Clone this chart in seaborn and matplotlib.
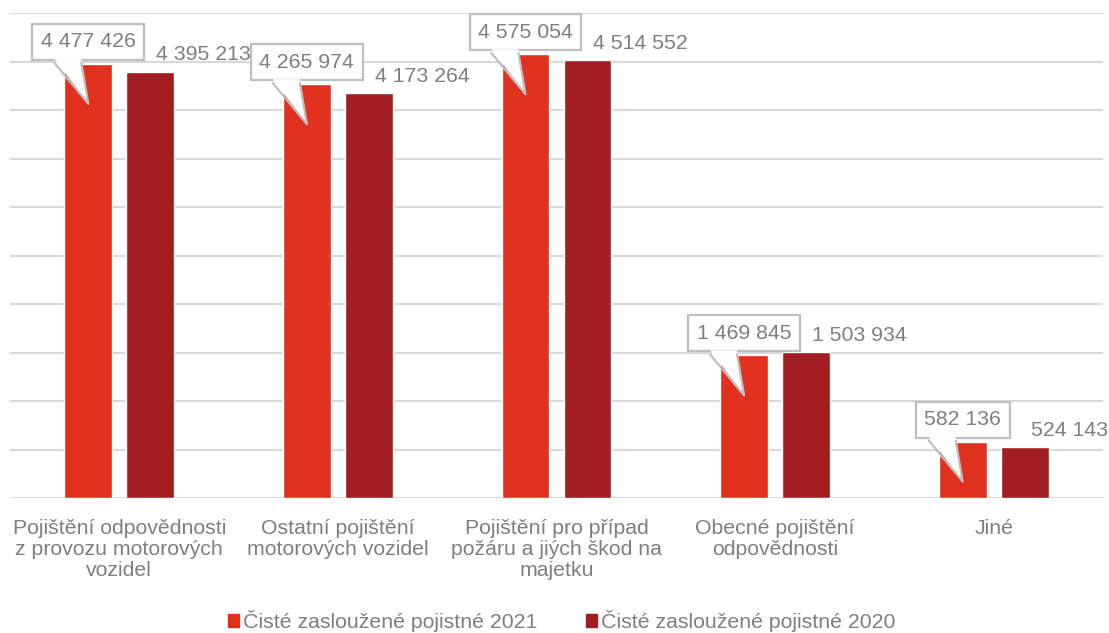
import pandas as pd
import matplotlib
matplotlib.use('Agg')
import matplotlib.pyplot as plt
import seaborn as sns
from matplotlib.patches import Patch, Polygon
from matplotlib.lines import Line2D

# Data
categories = [
    'Pojištění odpovědnosti\nz provozu motorových\nvozidel',
    'Ostatní pojištění\nmotorových vozidel',
    'Pojištění pro případ\npožáru a jiých škod na\nmajetku',
    'Obecné pojištění\nodpovědnosti',
    'Jiné',
]
series_names = ['Čisté zasloužené pojistné 2021', 'Čisté zasloužené pojistné 2020']
values_2021 = [4477426, 4265974, 4575054, 1469845, 582136]
values_2020 = [4395213, 4173264, 4514552, 1503934, 524143]
colors = ['#e0301e', '#a31e22']

df = pd.DataFrame({
    'kategorie': categories * 2,
    'rada': [series_names[0]] * 5 + [series_names[1]] * 5,
    'hodnota': values_2021 + values_2020,
})

sns.set_style('white')
plt.rcParams['font.family'] = ['Liberation Sans', 'DejaVu Sans']
txt_color = '#7f7f7f'
box_color = '#bfbfbf'
fs = 15.3

fig = plt.figure(figsize=(11.09, 6.33), dpi=100)
ax = fig.add_axes([10 / 1109, 135 / 633, 1093 / 1109, 485 / 633])

sns.barplot(data=df, x='kategorie', y='hodnota', hue='rada', palette=colors,
            width=0.567, gap=0.226, legend=False, ax=ax, saturation=1)

ax.set_xlim(-0.5, 4.5)
ax.set_ylim(0, 5000000)
ax.set_yticks(range(0, 5000001, 500000))
ax.yaxis.grid(True, color='#d9d9d9', lw=1.5)
ax.set_axisbelow(True)
ax.set_yticklabels([])
ax.tick_params(axis='y', length=0)
ax.tick_params(axis='x', length=0, pad=15, labelsize=fs, labelcolor=txt_color)
for lab in ax.get_xticklabels():
    lab.set_linespacing(1.13)
ax.set_xlabel('')
ax.set_ylabel('')
for s in ax.spines.values():
    s.set_visible(False)

def fmt(v):
    return f'{v:,}'.replace(',', ' ')

# plain labels on the 2020 bars
for bar, v in zip(ax.containers[1], values_2020):
    x = bar.get_x() + bar.get_width() / 2
    ax.annotate(fmt(v), xy=(x, v), xytext=(6, 17), textcoords='offset pixels',
                ha='left', va='center', fontsize=fs, color=txt_color, zorder=4)

# callouts on the 2021 bars (pointer built in pixel space)
for bar, v in zip(ax.containers[0], values_2021):
    x = bar.get_x() + bar.get_width() / 2
    ax.annotate(fmt(v), xy=(x, v), xytext=(0, 22), textcoords='offset pixels',
                ha='center', va='center', fontsize=fs, color=txt_color, zorder=5,
                bbox=dict(boxstyle='square,pad=0.4', fc='white', ec=box_color, lw=1.6))
    px, py = ax.transData.transform((x, v))
    left, right, tip = (px - 34, py + 1), (px - 7, py + 1), (px, py - 40)
    fig.patches.append(Polygon([(px - 34, py + 5), (px - 7, py + 5), tip], closed=True,
                               transform=None, fc='white', ec='none', zorder=6))
    fig.lines.append(Line2D([left[0], tip[0], right[0]], [left[1], tip[1], right[1]],
                            transform=None, color=box_color, lw=1.6, zorder=7))

handles = [Patch(color=c) for c in colors]
fig.legend(handles, series_names, loc='center', bbox_to_anchor=(562 / 1109, 1 - 621 / 633),
           ncol=2, frameon=False, fontsize=fs, labelcolor=txt_color,
           handlelength=0.5, handleheight=0.5, handletextpad=0.2, columnspacing=2.3)

fig.savefig('out.png', dpi=100)
